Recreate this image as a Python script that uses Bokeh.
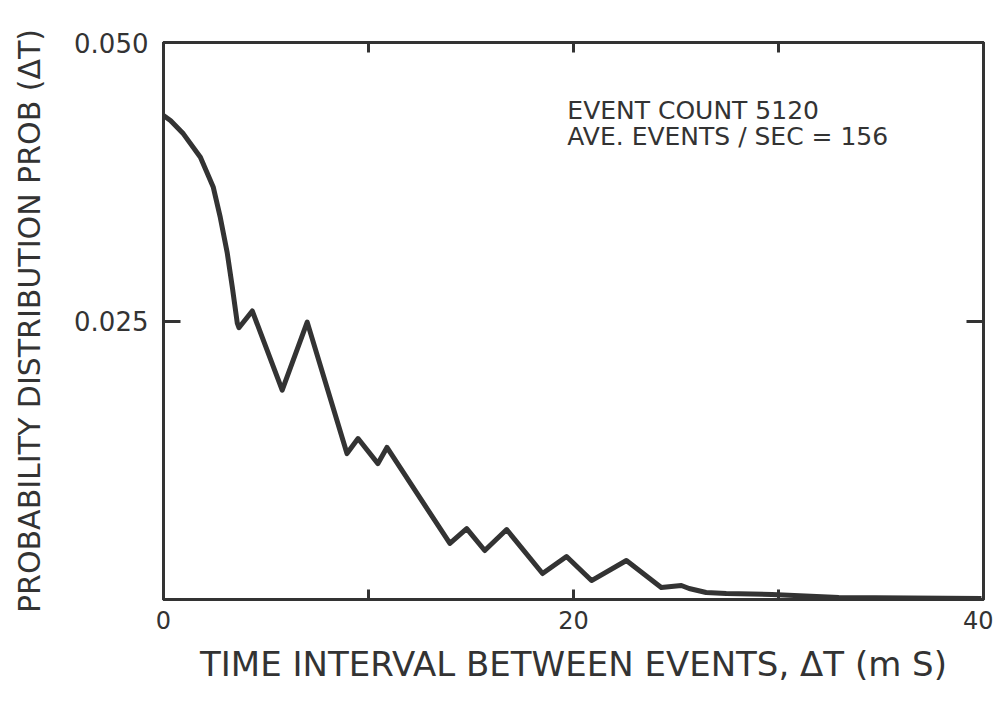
from bokeh.plotting import figure
from bokeh.models import Range1d, FixedTicker, LinearAxis, Label
from bokeh.embed import file_html
from bokeh.resources import INLINE

# ---- data ----
interval_ms = [0.0, 0.34, 0.97, 1.80, 2.43, 2.77, 3.11, 3.36, 3.60, 3.68, 4.33, 5.79, 7.01,
               8.95, 9.49, 10.46, 10.90, 13.97, 14.79, 15.67, 16.74, 18.49, 19.66, 20.88,
               22.58, 24.28, 25.26, 25.64, 26.47, 27.45, 29.68, 32.94, 39.9]
prob = [0.04345, 0.0430, 0.0418, 0.0397, 0.0370, 0.0343, 0.0311, 0.0280, 0.0248, 0.0244,
        0.0259, 0.0188, 0.0249, 0.0131, 0.01445, 0.0122, 0.01365, 0.00503, 0.00637, 0.0044,
        0.00628, 0.00233, 0.00386, 0.0017, 0.0035, 0.00108, 0.00126, 0.00099, 0.00063,
        0.00054, 0.00045, 0.00018, 0.00009]

x_ticks = [0, 10, 20, 30, 40]
x_tick_labels = {0: "0", 10: "", 20: "20", 30: "", 40: "40"}
y_ticks = [0, 0.025, 0.05]
y_tick_labels = {0: "", 0.025: "0.025", 0.05: "0.050"}
x_title = "TIME INTERVAL BETWEEN EVENTS, \u0394T (m S)"
y_title = "PROBABILITY DISTRIBUTION PROB (\u0394T)"
note_lines = ["EVENT COUNT 5120", "AVE. EVENTS / SEC = 156"]

INK = "#333333"
FONT = "DejaVu Sans"

p = figure(width=993, height=693, x_range=Range1d(0, 40), y_range=Range1d(0, 0.05),
           output_backend="svg", toolbar_location=None,
           min_border_left=163, min_border_right=10, min_border_top=42, min_border_bottom=94)
p.xgrid.visible = False
p.ygrid.visible = False
p.outline_line_color = INK
p.outline_line_width = 3
p.background_fill_color = "white"
p.border_fill_color = "white"

p.line(interval_ms, prob, line_color=INK, line_width=5, line_join="round")

def style_axis(ax, tick_in):
    ax.axis_line_color = INK
    ax.axis_line_width = 3
    ax.major_tick_line_color = INK
    ax.major_tick_line_width = 3
    ax.major_tick_in = tick_in
    ax.major_tick_out = 0
    ax.minor_tick_line_color = None
    ax.major_label_text_font = FONT
    ax.major_label_text_color = INK
    ax.axis_label_text_font = FONT
    ax.axis_label_text_color = INK
    ax.axis_label_text_font_style = "normal"

# bottom
xa = p.xaxis[0]
xa.ticker = FixedTicker(ticks=x_ticks)
xa.major_label_overrides = x_tick_labels
style_axis(xa, 10)
xa.major_label_text_font_size = "24px"
xa.major_label_standoff = 11
xa.axis_label = x_title
xa.axis_label_text_font_size = "34px"
xa.axis_label_standoff = 12

# left
ya = p.yaxis[0]
ya.ticker = FixedTicker(ticks=y_ticks)
ya.major_label_overrides = y_tick_labels
style_axis(ya, 17)
ya.major_label_text_font_size = "26px"
ya.major_label_standoff = 15
ya.axis_label = y_title
ya.axis_label_text_font_size = "30px"
ya.axis_label_standoff = 24

# top and right tick-only axes
top = LinearAxis(ticker=FixedTicker(ticks=x_ticks),
                 major_label_overrides={t: "" for t in x_ticks})
style_axis(top, 10)
top.major_label_text_font_size = "1px"
top.major_label_standoff = 0
p.add_layout(top, "above")

right = LinearAxis(ticker=FixedTicker(ticks=y_ticks),
                   major_label_overrides={t: "" for t in y_ticks})
style_axis(right, 17)
right.major_label_text_font_size = "1px"
right.major_label_standoff = 0
p.add_layout(right, "right")

# annotation text
for i, line in enumerate(note_lines):
    p.add_layout(Label(x=19.7, y=0.0439 - i * 0.00233, text=line,
                       text_font=FONT, text_font_size="25px", text_color=INK,
                       text_baseline="alphabetic"))

open("out.html", "w").write(file_html(p, INLINE))
